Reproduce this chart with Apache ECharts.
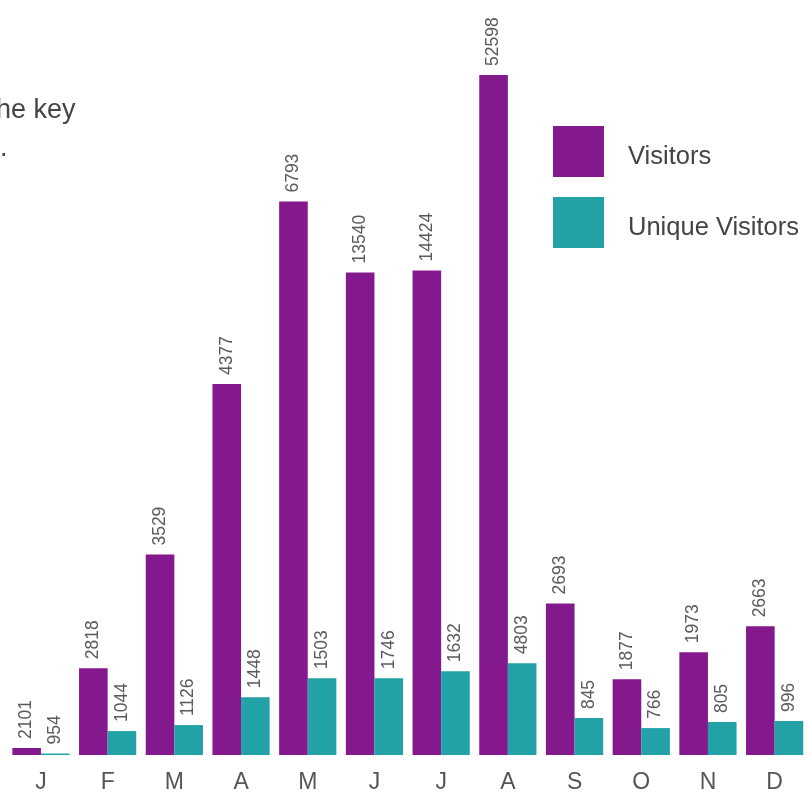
<!DOCTYPE html>
<html>
<head>
<meta charset="utf-8">
<script src="https://cdn.jsdelivr.net/npm/echarts@6/dist/echarts.min.js"></script>
<style>
html,body{margin:0;padding:0;background:#fff;}
#chart{width:808px;height:794px;}
</style>
</head>
<body>
<div id="chart"></div>
<script>
// Month initials
var months = ['J','F','M','A','M','J','J','A','S','O','N','D'];
// Drawn bar heights (as they appear in the picture, arbitrary units)
var visitorsHeight = [7, 87, 201, 372, 555, 484, 486, 682, 152, 76, 103, 129];
var uniqueHeight   = [1.5, 24, 30, 58, 77, 77, 84, 92, 37, 27, 33, 34];
// Printed value labels
var visitorsLabel = ['2101','2818','3529','4377','6793','13540','14424','52598','2693','1877','1973','2663'];
var uniqueLabel   = ['954','1044','1126','1448','1503','1746','1632','4803','845','766','805','996'];
var seriesNames = ['Visitors','Unique Visitors'];

var chart = echarts.init(document.getElementById('chart'));
var labelBase = {
  show: true, position: 'top', rotate: 90, distance: 9,
  align: 'left', verticalAlign: 'middle',
  fontFamily: 'Liberation Sans, Arial, sans-serif', fontSize: 17.5, color: '#5a5a5a'
};
chart.setOption({
  animation: false,
  backgroundColor: '#ffffff',
  grid: { left: 7.6, top: 57, width: 801.6, bottom: 37, containLabel: false },
  legend: {
    orient: 'vertical', left: 548, top: 121,
    itemWidth: 51, itemHeight: 51, itemGap: 20,
    icon: 'rect',
    data: seriesNames,
    formatter: '{t|{name}}',
    textStyle: {
      fontFamily: 'Liberation Sans, Arial, sans-serif', fontSize: 25.5, color: '#444',
      rich: { t: { fontFamily: 'Liberation Sans, Arial, sans-serif', fontSize: 25.5, color: '#444', padding: [10, 0, 0, 19] } }
    }
  },
  graphic: [
    { type: 'text', left: -4, top: 97, style: { text: 'he key', fontFamily: 'Liberation Sans, Arial, sans-serif', fontSize: 27, fill: '#444' } },
    { type: 'text', left: 0, top: 135, style: { text: '.', fontFamily: 'Liberation Sans, Arial, sans-serif', fontSize: 27, fill: '#444' } }
  ],
  xAxis: {
    type: 'category', data: months,
    axisLine: { show: false }, axisTick: { show: false },
    axisLabel: { margin: 16, fontFamily: 'Liberation Sans, Arial, sans-serif', fontSize: 23, color: '#555' }
  },
  yAxis: { type: 'value', min: 0, max: 700, show: false, splitLine: { show: false } },
  series: [
    { name: seriesNames[0], type: 'bar', data: visitorsHeight, barWidth: 28.6, barGap: '0%',
      itemStyle: { color: '#84198e' },
      label: Object.assign({}, labelBase, { formatter: function (p) { return visitorsLabel[p.dataIndex]; } }) },
    { name: seriesNames[1], type: 'bar', data: uniqueHeight, barWidth: 28.6, barGap: '0%',
      itemStyle: { color: '#22a1a6' },
      label: Object.assign({}, labelBase, { formatter: function (p) { return uniqueLabel[p.dataIndex]; } }) }
  ]
});
</script>
</body>
</html>
